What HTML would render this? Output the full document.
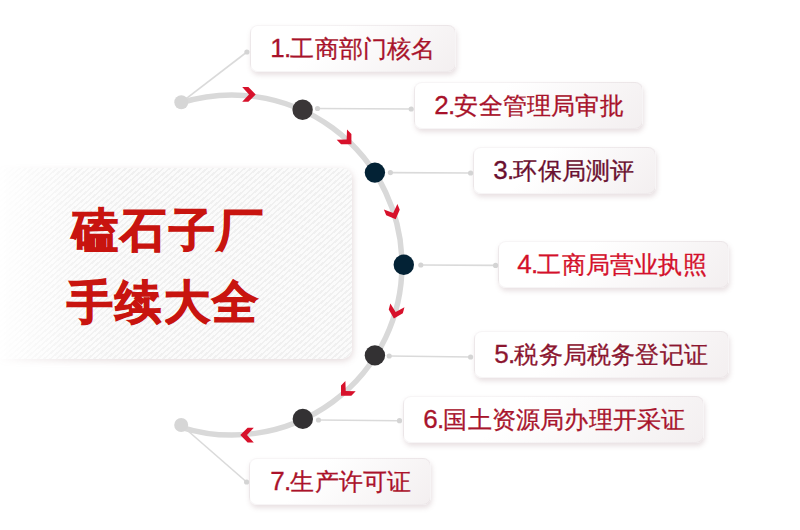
<!DOCTYPE html>
<html><head><meta charset="utf-8">
<style>
html,body{margin:0;padding:0;background:#fff;}
body{width:800px;height:530px;position:relative;overflow:hidden;font-family:"Liberation Sans",sans-serif;}
.pwrap{position:absolute;left:0;top:150px;width:380px;height:230px;
 -webkit-mask-image:linear-gradient(90deg,rgba(0,0,0,0.05) 0px,rgba(0,0,0,0.3) 20px,rgba(0,0,0,0.75) 70px,#000 130px);}
.panel{position:absolute;left:-10px;top:18px;width:362px;height:191px;border-radius:10px;
 background:repeating-linear-gradient(139deg,#fbfbfb 0px,#fbfbfb 2.4px,#f0f0f0 2.4px,#f0f0f0 4.1px);
 box-shadow:1px 2px 6px rgba(150,110,115,0.25);}
.title{position:absolute;font-weight:bold;font-size:46px;color:#c8140f;line-height:46px;white-space:nowrap;-webkit-text-stroke:1.2px #c8140f;letter-spacing:2.3px;}
.box{position:absolute;height:47px;box-sizing:border-box;border:1px solid rgba(120,90,95,0.06);border-radius:8px;background:linear-gradient(135deg,#ffffff 35%,#f3eff0 100%);
 box-shadow:1px 3px 5px rgba(140,100,110,0.2);}
.box span{position:absolute;top:-1.5px;margin-left:-1px;line-height:47px;font-size:24px;white-space:nowrap;-webkit-text-stroke:0.3px currentColor;letter-spacing:0.2px;}
svg{position:absolute;left:0;top:0;}
.box i{font-style:normal;font-size:26px;letter-spacing:-0.8px;}
</style></head><body>
<div class="pwrap"><div class="panel"></div></div>
<div class="title" style="left:72px;top:207px">磕石子厂</div>
<div class="title" style="left:67px;top:279px">手续大全</div>

<div class="box" style="left:250px;top:25px;width:206px;"><span style="left:20.3px;color:#a8122a"><i>1.</i>工商部门核名</span></div>
<div class="box" style="left:414px;top:82px;width:229px;"><span style="left:20.3px;color:#a8122a"><i>2.</i>安全管理局审批</span></div>
<div class="box" style="left:473px;top:147px;width:183px;"><span style="left:20.3px;color:#6a1030"><i>3.</i>环保局测评</span></div>
<div class="box" style="left:498px;top:241px;width:231px;"><span style="left:19.3px;color:#d4102a"><i>4.</i>工商局营业执照</span></div>
<div class="box" style="left:474px;top:331px;width:255px;"><span style="left:20.3px;color:#8c1630"><i>5.</i>税务局税务登记证</span></div>
<div class="box" style="left:403px;top:396px;width:301px;"><span style="left:20.3px;color:#a8142c"><i>6.</i>国土资源局办理开采证</span></div>
<div class="box" style="left:249px;top:458px;width:182px;"><span style="left:21.3px;color:#ab122a"><i>7.</i>生产许可证</span></div>

<svg width="800" height="530" viewBox="0 0 800 530">
 <path d="M181.3,102.74 A170,170 0 1 1 181.2,427.26" fill="none" stroke="#d9d9d9" stroke-width="5.5"/>
 <g stroke="#dadada" stroke-width="1.6" fill="none">
  <line x1="181.3" y1="102.3" x2="246.9" y2="52"/>
  <line x1="317.5" y1="108.5" x2="411.2" y2="109"/>
  <line x1="390.4" y1="172.6" x2="470.6" y2="173"/>
  <line x1="420.8" y1="265" x2="495.6" y2="265.4"/>
  <line x1="389.2" y1="356" x2="470.6" y2="357"/>
  <line x1="318.5" y1="420" x2="399.5" y2="420.7"/>
  <line x1="181.2" y1="425" x2="246.6" y2="482"/>
 </g>
 <g fill="#d4d4d4">
  <circle cx="246.9" cy="52" r="2.6"/>
  <circle cx="317.5" cy="108.5" r="2.6"/><circle cx="411.2" cy="109" r="2.6"/>
  <circle cx="390.4" cy="172.6" r="2.6"/><circle cx="470.6" cy="173" r="2.6"/>
  <circle cx="420.8" cy="265" r="2.6"/><circle cx="495.6" cy="265.4" r="2.6"/>
  <circle cx="389.2" cy="356" r="2.6"/><circle cx="470.6" cy="357" r="2.6"/>
  <circle cx="318.5" cy="420" r="2.6"/><circle cx="399.5" cy="420.7" r="2.6"/>
  <circle cx="246.6" cy="482" r="2.6"/>
 </g>
 <circle cx="181.3" cy="102.3" r="7" fill="#d6d6d6"/>
 <circle cx="181.2" cy="425" r="7" fill="#d6d6d6"/>
 <circle cx="302.6" cy="109.8" r="10.2" fill="#3a3637"/>
 <circle cx="374.9" cy="172.6" r="10.2" fill="#032235"/>
 <circle cx="403.8" cy="264.8" r="10.2" fill="#032235"/>
 <circle cx="374.9" cy="355.4" r="10.2" fill="#333133"/>
 <circle cx="302.8" cy="418.9" r="10.2" fill="#333133"/>
 <g fill="#d7112b">
  <path transform="translate(255.7,94.4) rotate(0)" d="M0,0 L-7.3,-7.3 L-13.5,-7.3 L-6.7,0 L-13.5,7.3 L-7.3,7.3 Z"/>
  <path transform="translate(351.4,144.2) rotate(45)" d="M0,0 L-7.3,-7.3 L-13.5,-7.3 L-6.7,0 L-13.5,7.3 L-7.3,7.3 Z"/>
  <path transform="translate(395.7,219.3) rotate(68)" d="M0,0 L-7.3,-7.3 L-13.5,-7.3 L-6.7,0 L-13.5,7.3 L-7.3,7.3 Z"/>
  <path transform="translate(393.9,318.5) rotate(105)" d="M0,0 L-7.3,-7.3 L-13.5,-7.3 L-6.7,0 L-13.5,7.3 L-7.3,7.3 Z"/>
  <path transform="translate(341,395.7) rotate(135)" d="M0,0 L-7.3,-7.3 L-13.5,-7.3 L-6.7,0 L-13.5,7.3 L-7.3,7.3 Z"/>
  <path transform="translate(240.3,435.1) rotate(180)" d="M0,0 L-7.3,-7.3 L-13.5,-7.3 L-6.7,0 L-13.5,7.3 L-7.3,7.3 Z"/>
 </g>
</svg>
</body></html>
